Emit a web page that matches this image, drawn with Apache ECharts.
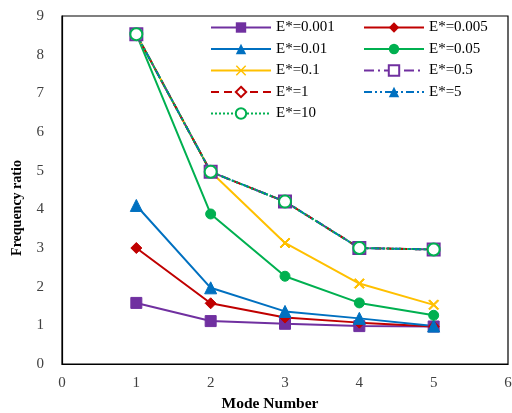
<!DOCTYPE html>
<html><head><meta charset="utf-8">
<script src="https://cdn.jsdelivr.net/npm/echarts@6/dist/echarts.min.js"></script>
<style>html,body{margin:0;padding:0;background:#fff}#c{width:512px;height:413px}</style>
</head><body><div id="c"></div>
<script>
var modes = [1, 2, 3, 4, 5];
var names = ['E*=0.001','E*=0.005','E*=0.01','E*=0.05','E*=0.1','E*=0.5','E*=1','E*=5','E*=10'];
var e0001 = [1.58, 1.11, 1.04, 0.98, 0.97];
var e0005 = [3.0, 1.57, 1.2, 1.07, 0.97];
var e001  = [4.1, 1.97, 1.36, 1.18, 0.98];
var e005  = [8.53, 3.88, 2.27, 1.58, 1.26];
var e01   = [8.53, 4.97, 3.13, 2.08, 1.53];
var e05   = [8.53, 4.97, 4.2, 3.0, 2.96];
var e1    = [8.53, 4.97, 4.2, 3.0, 2.96];
var e5    = [8.53, 4.97, 4.2, 3.0, 2.96];
var e10   = [8.53, 4.97, 4.2, 3.0, 2.96];
var xTicks = [0,1,2,3,4,5,6];
var yTicks = [0,1,2,3,4,5,6,7,8,9];

function pts(v){ return modes.map(function(m,i){ return [m, v[i]]; }); }
var X = 'path://M0,1L1,0L5,4L9,0L10,1L6,5L10,9L9,10L5,6L1,10L0,9L4,5Z';
var PUR='#7030A0', RED='#C00000', BLU='#0070C0', GRN='#00B050', YEL='#FFC000';
function S(name, vals, color, symbol, size, lineType, hollow){
  return {
    name: name, type: 'line', data: pts(vals),
    symbol: symbol, symbolSize: size,
    lineStyle: {color: color, width: 2, type: lineType},
    itemStyle: hollow ? {color: '#fff', borderColor: color, borderWidth: 2} : {color: color, borderColor: color},
    emphasis: {disabled: true},
    animation: false
  };
}
var series = [
  S(names[0], e0001, PUR, 'rect', 11, 'solid', false),
  S(names[1], e0005, RED, 'diamond', 11, 'solid', false),
  S(names[2], e001, BLU, 'triangle', 12, 'solid', false),
  S(names[3], e005, GRN, 'circle', 10, 'solid', false),
  S(names[4], e01, YEL, X, 10, 'solid', false),
  S(names[5], e05, PUR, 'rect', 12, [10,4,2,4], true),
  S(names[6], e1, RED, 'diamond', 9, [8,5], true),
  S(names[7], e5, BLU, 'triangle', 9, [8,3,2,3,2,3], false),
  S(names[8], e10, GRN, 'circle', 12, [2,2], true)
];
var font = 'Liberation Serif, DejaVu Serif, serif';
var legendCommon = {
  orient: 'vertical', top: 20, itemWidth: 60, itemHeight: 13, itemGap: 6.5,
  textStyle: {fontFamily: font, fontSize: 15, color: '#000'},
  selectedMode: false, padding: 0
};
var chart = echarts.init(document.getElementById('c'));
chart.setOption({
  backgroundColor: '#fff',
  animation: false,
  grid: {left: 62, right: 4, top: 16, bottom: 49, show: true, borderColor: '#000', borderWidth: 1.2,
         outerBoundsMode: 'none', containLabel: false},
  legend: [
    Object.assign({}, legendCommon, {left: 210, data: [names[0], names[2], names[4], names[6], names[8]]}),
    Object.assign({}, legendCommon, {left: 363, data: [names[1], names[3], names[5], names[7]]})
  ],
  xAxis: {
    type: 'value', min: xTicks[0], max: xTicks[xTicks.length-1], interval: 1,
    name: 'Mode Number', nameLocation: 'middle', nameGap: 32,
    nameTextStyle: {fontFamily: font, fontSize: 15.5, fontWeight: 'bold', color: '#000', padding: [0, 30, 0, 0]},
    axisLine: {lineStyle: {color: '#000', width: 1.2}},
    axisTick: {show: false}, splitLine: {show: false},
    axisLabel: {fontFamily: font, fontSize: 15, color: '#404040', margin: 12}
  },
  yAxis: {
    type: 'value', min: yTicks[0], max: yTicks[yTicks.length-1], interval: 1,
    name: 'Frequency ratio', nameLocation: 'middle', nameGap: 38,
    nameTextStyle: {fontFamily: font, fontSize: 14, fontWeight: 'bold', color: '#000', padding: [0, 36, 0, 0]},
    axisLine: {show: true, lineStyle: {color: '#000', width: 1.2}},
    axisTick: {show: false}, splitLine: {show: false},
    axisLabel: {fontFamily: font, fontSize: 15, color: '#404040', margin: 18}
  },
  series: series
});
</script></body></html>
